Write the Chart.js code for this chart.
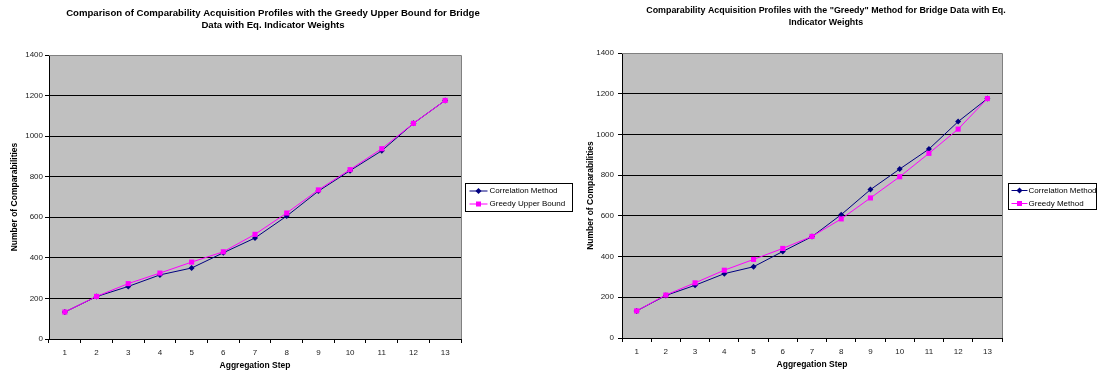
<!DOCTYPE html>
<html>
<head>
<meta charset="utf-8">
<script src="https://cdn.jsdelivr.net/npm/chart.js@4.4.0/dist/chart.umd.min.js"></script>
<style>
  body { margin: 0; background: #fff; }
  #wrap { position: relative; width: 1097px; height: 375px; }
  .box { position: absolute; top: 0; height: 375px; }
</style>
</head>
<body>
<div id="wrap">
  <div class="box" style="left:0;width:580px"><canvas id="chartLeft"></canvas></div>
  <div class="box" style="left:575px;width:522px"><canvas id="chartRight"></canvas></div>
</div>
<script>
// data
const steps = ["1", "2", "3", "4", "5", "6", "7", "8", "9", "10", "11", "12", "13"];
const correlationMethod = [133, 209, 259, 316, 350, 425, 498, 606, 729, 830, 928, 1063, 1176];
const greedyUpperBound = [133, 210, 273, 325, 379, 430, 516, 621, 735, 835, 938, 1063, 1176];
const greedyMethod = [133, 211, 271, 333, 386, 440, 499, 585, 688, 792, 907, 1026, 1176];
const yMin = 0;
const yMax = 1400;
const yStep = 200;

const leftTitle = [
  "Comparison of Comparability Acquisition Profiles with the Greedy Upper Bound for Bridge",
  "Data with Eq. Indicator Weights",
];
const rightTitle = [
  'Comparability Acquisition Profiles with the "Greedy" Method for Bridge Data with Eq.',
  "Indicator Weights",
];

const FONT = "'Liberation Sans', Arial, sans-serif";

// grey plot area + grey top/right border (Excel style)
const plotArea = {
  id: "plotArea",
  beforeDraw(chart) {
    const { ctx, chartArea: a } = chart;
    ctx.save();
    ctx.fillStyle = "#c0c0c0";
    ctx.fillRect(a.left, a.top, a.width, a.height);
    ctx.restore();
  },
  beforeDatasetsDraw(chart) {
    const { ctx, chartArea: a } = chart;
    ctx.save();
    ctx.strokeStyle = "#808080";
    ctx.lineWidth = 1;
    ctx.beginPath();
    ctx.moveTo(Math.round(a.left), Math.round(a.top) + 0.5);
    ctx.lineTo(Math.round(a.right) + 0.5, Math.round(a.top) + 0.5);
    ctx.lineTo(Math.round(a.right) + 0.5, Math.round(a.bottom));
    ctx.stroke();
    ctx.restore();
  },
};

// two-line title centred on the whole chart picture
const titleLines = {
  id: "titleLines",
  afterDraw(chart, args, opts) {
    const ctx = chart.ctx;
    ctx.save();
    ctx.fillStyle = "#000";
    ctx.font = "bold " + opts.size + "px " + FONT;
    ctx.textAlign = "center";
    ctx.textBaseline = "middle";
    opts.lines.forEach((line, i) => {
      ctx.fillText(line, opts.cx, opts.y + i * 12);
    });
    ctx.restore();
  },
};

function drawMarker(ctx, style, x, y, color) {
  ctx.fillStyle = color;
  ctx.beginPath();
  if (style === "rect") {
    ctx.rect(x - 2.5, y - 2.5, 5, 5);
  } else {
    ctx.moveTo(x, y - 3);
    ctx.lineTo(x + 3, y);
    ctx.lineTo(x, y + 3);
    ctx.lineTo(x - 3, y);
    ctx.closePath();
  }
  ctx.fill();
}

// boxed legend with line + marker samples
const lineLegend = {
  id: "lineLegend",
  afterDraw(chart, args, opts) {
    const { ctx, chartArea: a } = chart;
    const left = Math.round(a.right + opts.gap) + 0.5;
    const top = Math.round((a.top + a.bottom) / 2 - opts.height / 2) + 0.5;
    ctx.save();
    ctx.fillStyle = "#fff";
    ctx.fillRect(left, top, opts.width, opts.height);
    ctx.strokeStyle = "#000";
    ctx.lineWidth = 1;
    ctx.strokeRect(left, top, opts.width, opts.height);
    ctx.font = "8px " + FONT;
    ctx.textBaseline = "middle";
    chart.data.datasets.forEach((ds, i) => {
      const y = top + opts.rowY[i];
      ctx.strokeStyle = ds.borderColor;
      ctx.beginPath();
      ctx.moveTo(left + opts.lineStart, y);
      ctx.lineTo(left + opts.lineEnd, y);
      ctx.stroke();
      drawMarker(ctx, ds.pointStyle, left + (opts.lineStart + opts.lineEnd) / 2, y, ds.borderColor);
      ctx.fillStyle = "#000";
      ctx.fillText(ds.label, left + opts.textX, y);
    });
    ctx.restore();
  },
};

function buildChart(id, title, greedyLabel, greedyData, geo) {
  new Chart(document.getElementById(id), {
    type: "line",
    data: {
      labels: steps,
      datasets: [
        {
          label: "Correlation Method",
          data: correlationMethod,
          borderColor: "#000080",
          backgroundColor: "#000080",
          borderWidth: 1,
          pointStyle: "rectRot",
          pointRadius: 3,
          pointBorderWidth: 0,
          order: 1,
        },
        {
          label: greedyLabel,
          data: greedyData,
          borderColor: "#ff00ff",
          backgroundColor: "#ff00ff",
          borderWidth: 1,
          pointStyle: "rect",
          pointRadius: 3.6,
          pointBorderWidth: 0,
          order: 0,
        },
      ],
    },
    options: {
      responsive: true,
      maintainAspectRatio: false,
      animation: false,
      layout: {
        padding: { top: geo.top, right: geo.padRight, left: 0, bottom: 0 },
      },
      plugins: {
        legend: { display: false },
        title: { display: false },
        tooltip: { enabled: false },
        titleLines: { lines: title, cx: geo.titleX, y: geo.titleY, size: geo.titleSize },
        lineLegend: geo.legend,
      },
      scales: {
        x: {
          offset: true,
          grid: {
            display: true,
            drawOnChartArea: false,
            offset: true,
            tickLength: 4,
            color: "#000",
          },
          border: { color: "#000" },
          ticks: {
            color: "#222",
            font: { family: FONT, size: 8 },
            padding: geo.xTickPad,
            maxRotation: 0,
            autoSkip: false,
          },
          title: {
            display: true,
            text: "Aggregation Step",
            color: "#000",
            font: { family: FONT, size: 8.5, weight: "bold" },
            padding: { top: 0, bottom: geo.xTitlePad },
          },
          afterFit: (s) => {
            s.height = geo.xAxisHeight;
          },
        },
        y: {
          min: yMin,
          max: yMax,
          grid: {
            color: (c) => (c.tick && c.tick.value === yMax ? "rgba(0,0,0,0)" : "#000"),
            tickColor: "#000",
            tickLength: 4,
          },
          border: { color: "#000" },
          ticks: {
            stepSize: yStep,
            color: "#222",
            font: { family: FONT, size: 8 },
            padding: geo.yTickPad,
            callback: (v) => String(v),
          },
          title: {
            display: true,
            text: "Number of Comparabilities",
            color: "#000",
            font: { family: FONT, size: 8.5, weight: "bold" },
            padding: { top: geo.yTitlePad, bottom: 0 },
          },
          afterFit: (s) => {
            s.width = geo.yAxisWidth;
          },
        },
      },
    },
    plugins: [plotArea, titleLines, lineLegend],
  });
}

document.addEventListener("DOMContentLoaded", function () {
  buildChart("chartLeft", leftTitle, "Greedy Upper Bound", greedyUpperBound, {
    top: 55,
    padRight: 580 - 461,
    yAxisWidth: 49,
    xAxisHeight: 36,
    yTickPad: 2,
    xTickPad: 5,
    yTitlePad: 10,
    xTitlePad: 4,
    titleX: 273,
    titleY: 13,
    titleSize: 9.6,
    legend: { gap: 4, width: 107, height: 28, rowY: [7.5, 20.5], lineStart: 4, lineEnd: 22, textX: 24 },
  });

  buildChart("chartRight", rightTitle, "Greedy Method", greedyMethod, {
    top: 53,
    padRight: 522 - 427,
    yAxisWidth: 47,
    xAxisHeight: 37,
    yTickPad: 4,
    xTickPad: 5,
    yTitlePad: 11,
    xTitlePad: 5,
    titleX: 251,
    titleY: 11,
    titleSize: 8.9,
    legend: { gap: 6, width: 88, height: 26, rowY: [7, 20], lineStart: 3, lineEnd: 19, textX: 20 },
  });
});
</script>
</body>
</html>
